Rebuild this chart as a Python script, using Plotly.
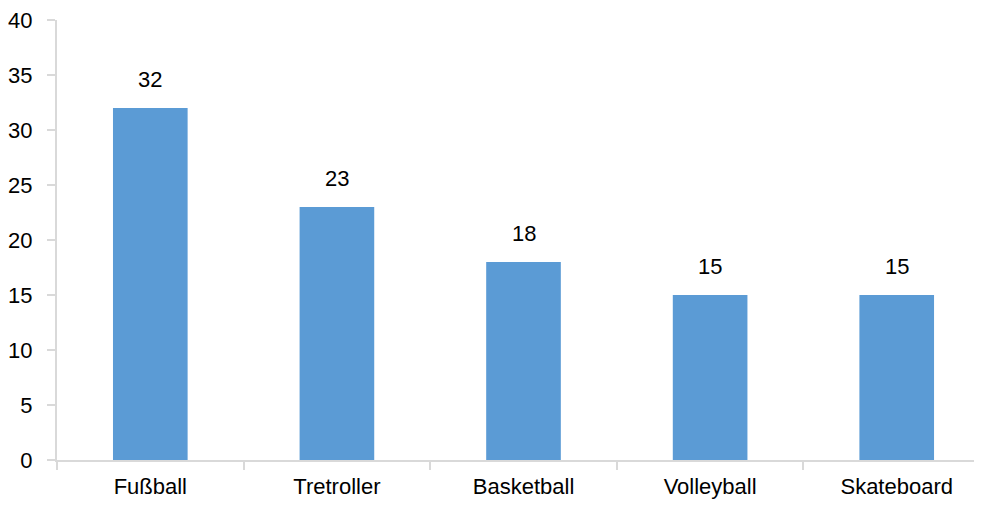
import plotly.graph_objects as go

categories = ["Fußball", "Tretroller", "Basketball", "Volleyball", "Skateboard"]
values = [32, 23, 18, 15, 15]
y_ticks = [0, 5, 10, 15, 20, 25, 30, 35, 40]

FONT = "Liberation Sans, Arial, sans-serif"
FSIZE = 22
AXIS_COLOR = "#d9d9d9"

fig = go.Figure(
    go.Bar(
        x=categories,
        y=values,
        width=0.4,
        marker=dict(color="#5B9BD5", line=dict(width=0)),
        hoverinfo="x+y",
    )
)

for c, v in zip(categories, values):
    fig.add_annotation(
        x=c, y=v, text=str(v), showarrow=False,
        yanchor="bottom", yshift=14,
        font=dict(family=FONT, size=FSIZE, color="#000000"),
    )

fig.update_layout(
    width=974,
    height=500,
    margin=dict(l=49, r=0, t=12, b=48),
    paper_bgcolor="white",
    plot_bgcolor="white",
    showlegend=False,
    font=dict(family=FONT, size=FSIZE, color="#000000"),
    bargap=0.6,
)

fig.update_xaxes(
    type="category",
    range=[-0.5, 4.457],
    automargin=False,
    showgrid=False,
    showline=True,
    linecolor=AXIS_COLOR,
    linewidth=2,
    ticks="outside",
    tickson="boundaries",
    ticklen=8,
    tickwidth=2,
    tickcolor=AXIS_COLOR,
    tickfont=dict(family=FONT, size=FSIZE, color="#000000"),
    ticklabelstandoff=6,
    zeroline=False,
)

fig.update_yaxes(
    range=[0, 40],
    automargin=False,
    tickvals=y_ticks,
    showgrid=False,
    showline=True,
    linecolor=AXIS_COLOR,
    linewidth=2,
    ticks="outside",
    ticklen=8,
    tickwidth=2,
    tickcolor=AXIS_COLOR,
    tickfont=dict(family=FONT, size=FSIZE, color="#000000"),
    ticklabelstandoff=10,
    ticklabeloverflow="allow",
    zeroline=False,
)

fig.write_html("out.html")
